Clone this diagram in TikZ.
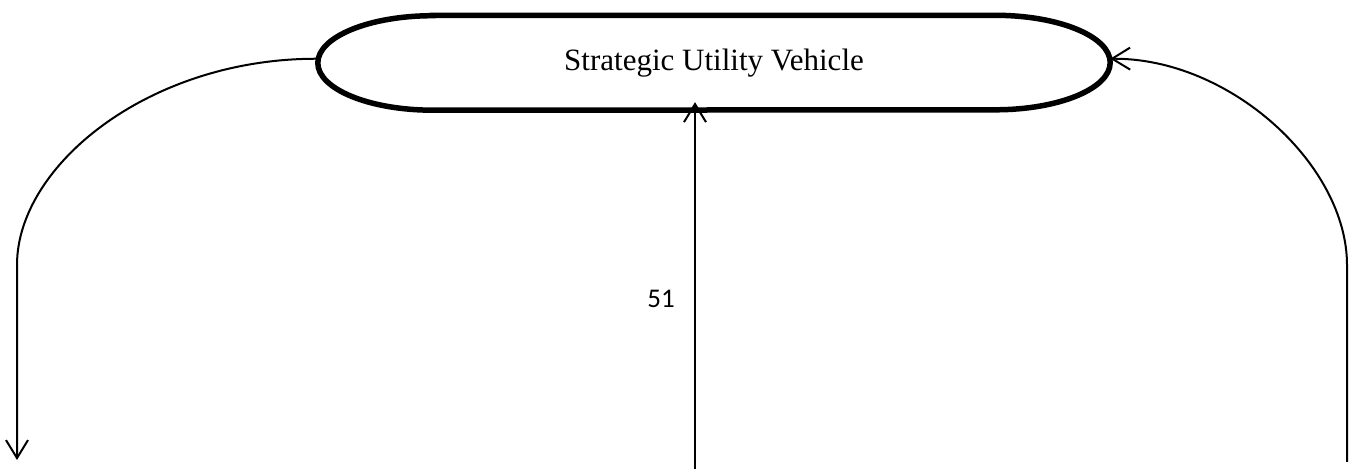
\documentclass[tikz,border=0pt]{standalone}
\usepackage{fontspec}
\setmainfont{Liberation Serif}
\newfontfamily\calib{Carlito}
\usetikzlibrary{arrows.meta}
\begin{document}
\begin{tikzpicture}[x=1pt,y=1pt,
  conn/.style={line width=2pt, -{Straight Barb[length=18pt,width=22pt,line width=2pt]}},
  borderline/.style={line width=5.5pt},
  main/.style={minimum width=792pt, minimum height=94.5pt, inner sep=0pt, font=\fontsize{31}{36}\selectfont},
  lab/.style={font=\calib\fontsize{27}{32}\selectfont}]
\useasboundingbox (0,0) rectangle (1357,471);
\node[main] (suv) at (714,408.25) {Strategic Utility Vehicle};
\draw[borderline] ([xshift=115pt]suv.north west) -- ([xshift=-115pt]suv.north east)
  arc[start angle=90, end angle=-90, x radius=115pt, y radius=47.25pt]
  -- ([xshift=115pt]suv.south west)
  arc[start angle=270, end angle=90, x radius=115pt, y radius=47.25pt] -- cycle;
\coordinate (lefttip) at (17,11);
\coordinate (rightstart) at (1347,9);
\coordinate (midstart) at (695,2);
\draw[conn] ([yshift=4pt]suv.west) .. controls (150,413) and (17,306) .. (17,206) -- (lefttip);
\draw[conn] (rightstart) -- (1347,206) .. controls (1347,306) and (1230,413) .. ([yshift=4pt]suv.east);
\draw[conn, line width=2.5pt] (midstart) -- ([xshift=-19pt,yshift=8pt]suv.south);
\node[lab] (lbl) at (661,172) {51};
\end{tikzpicture}
\end{document}
